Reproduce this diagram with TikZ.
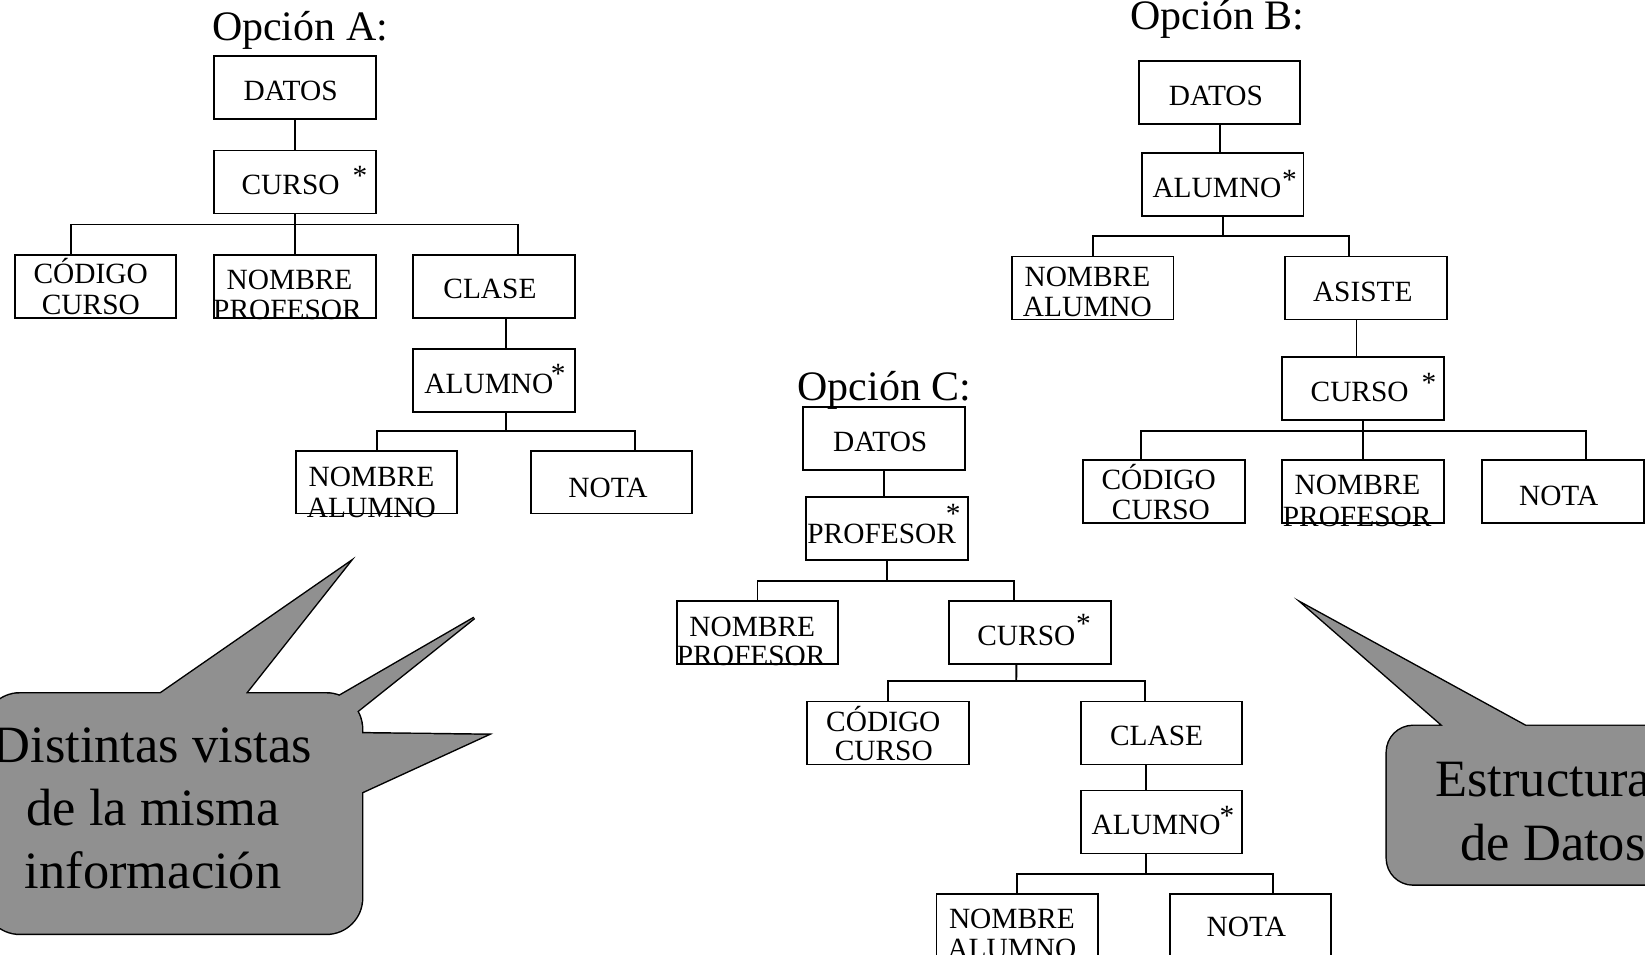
\documentclass[tikz,border=0pt]{standalone}
\usepackage{fontspec}
\setmainfont{Liberation Serif}
\definecolor{callgray}{RGB}{144,144,144}
\begin{document}
\begin{tikzpicture}[x=1pt,y=-1pt,
  bx/.style={draw, line width=1.8pt, minimum width=154pt, minimum height=60pt, inner sep=0pt, outer sep=0pt},
  lbl/.style={anchor=base, inner sep=0pt, font=\fontsize{28}{28}\selectfont},
  ttl/.style={anchor=base, inner sep=0pt, font=\fontsize{40}{40}\selectfont},
  big/.style={anchor=base, inner sep=0pt, font=\fontsize{50}{50}\selectfont},
  bigw/.style={anchor=base west, inner sep=0pt, font=\fontsize{50}{50}\selectfont},
  link/.style={line width=1.8pt},
  edge/.style={line width=2.8pt},
  ]
\clip (0,0) rectangle (1568,910);

% speech bubbles (outline drawn wide, then filled, so only the outer contour remains)
\path[save path=\bubbleA, rounded corners=34pt]
  (-15,661) -- (345,661) -- (345,890) -- (-15,890) -- cycle
  [sharp corners]
  (141.5,669) -- (332,537) -- (227.7,669) -- cycle
  (305.7,673.7) -- (452,589) -- (326.6,689) -- cycle
  (335,698.9) -- (464,700.5) -- (335,759.7) -- cycle;
\draw[edge, use path=\bubbleA];
\fill[callgray, use path=\bubbleA];

\path[save path=\bubbleB, rounded corners=25pt]
  (1322,692) -- (1680,692) -- (1680,843) -- (1322,843) -- cycle
  [sharp corners]
  (1385,700) -- (1244,577) -- (1468.6,700) -- cycle;
\draw[edge, use path=\bubbleB];
\fill[callgray, use path=\bubbleB];

\node[big] (bA1) at (145,727) {Distintas vistas};
\node[big] (bA2) at (146,787) {de la misma};
\node[big] (bA3) at (146,847) {información};
\node[bigw] (bB1) at (1368,759) {Estructura};
\node[bigw] (bB2) at (1392,820) {de Datos};

% ---------- Opción A ----------
\node[ttl] (titA) at (286,39) {Opción A:};
\node[bx] (datosA) at (281,83.5) {};
\node[bx] (cursoA) at (281,173.5) {};
\node[bx] (codA)   at (91,273) {};
\node[bx] (nprofA) at (281,273) {};
\node[bx] (claseA) at (471,273) {};
\node[bx] (alumA)  at (471,363) {};
\node[bx] (nalumA) at (359,459.5) {};
\node[bx] (notaA)  at (583,459.5) {};

\node[lbl] (lA1) at (277,96) {DATOS};
\node[lbl] (lA2) at (277,185.5) {CURSO};
\node[lbl] (sA2) at (343,177) {*};
\node[lbl] (lA3) at (86.5,270.7) {CÓDIGO};
\node[lbl] (lA3b) at (86.6,300) {CURSO};
\node[lbl] (lA4) at (276,275.6) {NOMBRE};
\node[lbl] (lA4b) at (274,304.8) {PROFESOR};
\node[lbl] (lA5) at (467,285) {CLASE};
\node[lbl] (lA6) at (466,375) {ALUMNO};
\node[lbl] (sA6) at (532,366) {*};
\node[lbl] (lA7) at (354,464) {NOMBRE};
\node[lbl] (lA7b) at (354,493) {ALUMNO};
\node[lbl] (lA8) at (579.5,474) {NOTA};

\coordinate (busA1) at (281,214);
\coordinate (busA2) at (482,411);
\draw[link] (datosA.south) -- (cursoA.north);
\draw[link] (cursoA.south) -- (nprofA.north);
\draw[link] ([xshift=-23pt]codA.north) |- (busA1) -| ([xshift=23pt]claseA.north);
\draw[link] ([xshift=11pt]claseA.south) -- ([xshift=11pt]alumA.north);
\draw[link] ([xshift=11pt]alumA.south) -- (busA2);
\draw[link] (nalumA.north) |- (busA2) -| ([xshift=22pt]notaA.north);

% ---------- Opción B ----------
\node[ttl] (titB) at (1160.5,28) {Opción B:};
\node[bx] (datosB) at (1162.5,88.5) {};
\node[bx] (alumB)  at (1165.5,175.5) {};
\node[bx] (nalumB) at (1041.6,274.5) {};
\node[bx] (asisB)  at (1302,274.5) {};
\node[bx] (cursoB) at (1299,370.5) {};
\node[bx] (codB)   at (1109.7,468.5) {};
\node[bx] (nprofB) at (1299,468.5) {};
\node[bx] (notaB)  at (1490,468.5) {};

\node[lbl] (lB1) at (1159,100.6) {DATOS};
\node[lbl] (lB2) at (1160,188) {ALUMNO};
\node[lbl] (sB2) at (1229,181) {*};
\node[lbl] (lB3) at (1036.5,273) {NOMBRE};
\node[lbl] (lB3b) at (1036.5,301.8) {ALUMNO};
\node[lbl] (lB4) at (1299,287) {ASISTE};
\node[lbl] (lB5) at (1296,382.6) {CURSO};
\node[lbl] (sB5) at (1362,374) {*};
\node[lbl] (lB6) at (1104.5,466.7) {CÓDIGO};
\node[lbl] (lB6b) at (1106.6,495.4) {CURSO};
\node[lbl] (lB7) at (1294,471.6) {NOMBRE};
\node[lbl] (lB7b) at (1293.6,502) {PROFESOR};
\node[lbl] (lB8) at (1485.7,482) {NOTA};

\coordinate (busB1) at (1164.5,225);
\coordinate (busB2) at (1300,410.6);
\draw[link] (datosB.south) -- (datosB.south |- alumB.north);
\draw[link] (alumB.south) -- (alumB.south |- busB1);
\draw[link] (nalumB.north) |- (busB1) -| ([xshift=-16pt]asisB.north);
\draw[link] ([xshift=-9pt]asisB.south) -- ([xshift=-9pt]asisB.south |- cursoB.north);
\draw[link] (cursoB.south) -- (cursoB.south |- nprofB.north);
\draw[link] ([xshift=-22pt]codB.north) |- (busB2) -| ([xshift=22pt]notaB.north);

% ---------- Opción C ----------
\node[ttl] (titC) at (843,382.2) {Opción C:};
\node[bx] (datosC) at (842.8,418) {};
\node[bx] (profC)  at (845.5,504) {};
\node[bx] (nprofC) at (722,603) {};
\node[bx] (cursoC) at (981.8,603) {};
\node[bx] (codC)   at (846.4,698.7) {};
\node[bx] (claseC) at (1107,698.7) {};
\node[bx] (alumC)  at (1107,783.5) {};
\node[bx] (nalumC) at (969.7,882) {};
\node[bx] (notaC)  at (1192,882) {};

\node[lbl] (lC1) at (839,430) {DATOS};
\node[lbl] (lC2) at (840.4,517.6) {PROFESOR};
\node[lbl] (sC2) at (908.5,499) {*};
\node[lbl] (lC3) at (717,606.5) {NOMBRE};
\node[lbl] (lC3b) at (716,634.4) {PROFESOR};
\node[lbl] (lC4) at (978.3,615.2) {CURSO};
\node[lbl] (sC4) at (1032.7,604) {*};
\node[lbl] (lC5) at (842,697.7) {CÓDIGO};
\node[lbl] (lC5b) at (842.4,724.8) {CURSO};
\node[lbl] (lC6) at (1102.5,711) {CLASE};
\node[lbl] (lC7) at (1102,795.3) {ALUMNO};
\node[lbl] (sC7) at (1169.6,786.6) {*};
\node[lbl] (lC8) at (964.5,885) {NOMBRE};
\node[lbl] (lC8b) at (964.5,914) {ALUMNO};
\node[lbl] (lC9) at (1188,893) {NOTA};

\coordinate (busC1) at (843.9,553.7);
\coordinate (busC2) at (968.7,648.8);
\coordinate (busC3) at (1092,833.3);
\draw[link] (datosC.south) -- (datosC.south |- profC.north);
\draw[link] (profC.south) -- (profC.south |- busC1);
\draw[link] (nprofC.north) |- (busC1) -| ([xshift=-15pt]cursoC.north);
\draw[link] ([xshift=-13pt]cursoC.south) -- (busC2);
\draw[link] (codC.north) |- (busC2) -| ([xshift=-16pt]claseC.north);
\draw[link] ([xshift=-15pt]claseC.south) -- ([xshift=-15pt]alumC.north);
\draw[link] ([xshift=-15pt]alumC.south) -- (busC3);
\draw[link] (nalumC.north) |- (busC3) -| ([xshift=21pt]notaC.north);
\end{tikzpicture}
\end{document}
